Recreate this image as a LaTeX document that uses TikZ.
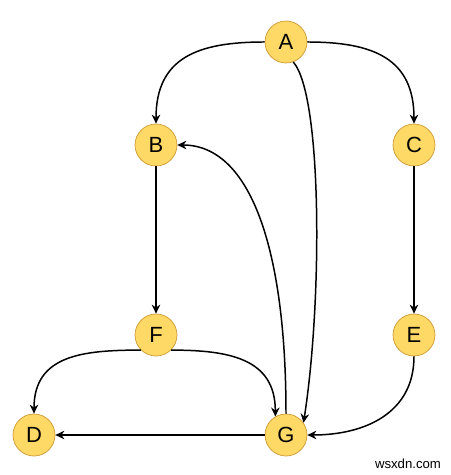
\documentclass[tikz,border=0pt]{standalone}
\usepackage{fontspec}
\setmainfont{Liberation Sans}
\usepackage{xcolor}
\usetikzlibrary{arrows.meta,positioning}
\definecolor{nodefill}{RGB}{255,217,102}
\definecolor{nodeedge}{RGB}{204,153,51}

\begin{document}
\begin{tikzpicture}[on grid, auto,
  vertex/.style={circle, draw=nodeedge, fill=nodefill, thin, minimum size=0.84cm, inner sep=0pt, font=\fontsize{12.5}{14}\selectfont},
  line/.style={draw, -{Stealth[length=1.8mm, width=1.7mm]}, line width=0.85pt}]
  \useasboundingbox (0,0) rectangle (9,9.5);

  \node [vertex] (A) at (5.72,8.66) {A};
  \node [vertex, below left=2.06cm and 2.6cm of A] (B) {B};
  \node [vertex, below right=2.06cm and 2.56cm of A] (C) {C};
  \node [vertex, below=3.8cm of B] (F) {F};
  \node [vertex, below=3.8cm of C] (E) {E};
  \node [vertex, below left=2cm and 2.44cm of F] (D) {D};
  \node [vertex, right=5.04cm of D] (G) {G};

  \path [line] (A.west) to[out=180, in=90, looseness=1.25] (B.north);
  \path [line] (A.east) to[out=0, in=90, looseness=1.25] (C.north);
  \path [line] (A.-70) .. controls +(0.58,-0.66) and +(0.38,2.44) .. (G.35);
  \path [line] (B.south) -- (F.north);
  \path [line] (C.south) -- (E.north);
  \path [line] (G.north) .. controls +(0,3.3) and +(1.46,0) .. (B.east);
  \path [line] (F.225) to[out=180, in=90, looseness=1.2] (D.north);
  \path [line] (F.-45) to[out=0, in=90, looseness=1.2] (G.120);
  \path [line] (E.south) to[out=-90, in=0, looseness=1.1] (G.east);
  \path [line] (G.west) -- (D.east);

  \node [font=\fontsize{7.5}{9}\selectfont] (wm) at (8.16,0.22) {wsxdn.com};
\end{tikzpicture}
\end{document}
